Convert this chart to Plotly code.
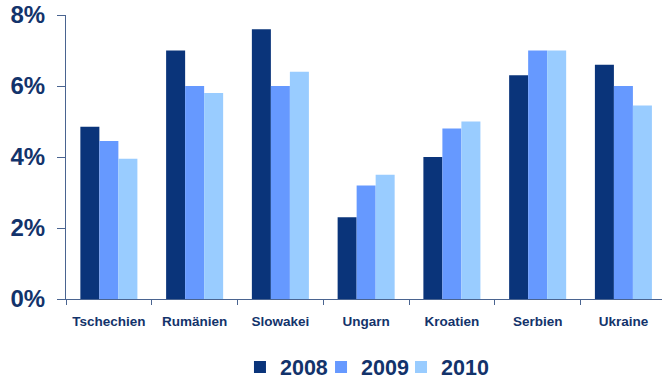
import plotly.graph_objects as go

# Data: annual rates per country, in percent
countries = ["Tschechien", "Rumänien", "Slowakei", "Ungarn", "Kroatien", "Serbien", "Ukraine"]
years = ["2008", "2009", "2010"]
v2008 = [4.85, 7.0, 7.6, 2.3, 4.0, 6.3, 6.6]
v2009 = [4.45, 6.0, 6.0, 3.2, 4.8, 7.0, 6.0]
v2010 = [3.95, 5.8, 6.4, 3.5, 5.0, 7.0, 5.45]
y_tickvals = [0, 2, 4, 6, 8]
y_ticktext = ["0%", "2%", "4%", "6%", "8%"]

series = [v2008, v2009, v2010]
colors = ["#0A347A", "#6699FF", "#99CCFF"]
legend_ids = ["legend", "legend2", "legend3"]
legend_x = [0.2919, 0.4279, 0.5621]
text_color = "#13336B"
axis_color = "#4A6490"
font_family = "Liberation Sans, Arial, sans-serif"

fig = go.Figure()
for name, vals, col, lg in zip(years, series, colors, legend_ids):
    fig.add_trace(go.Bar(x=countries, y=vals, name=name, legend=lg,
                         marker=dict(color=col, line=dict(width=0))))

x_range = [-0.5, 6.45]

legend_style = dict(
    orientation="h", y=-0.2394, xanchor="left", yanchor="middle",
    font=dict(size=21.5, family=font_family, color=text_color, weight="bold"),
    itemclick=False, bgcolor="rgba(0,0,0,0)",
)

fig.update_layout(
    width=662, height=379,
    margin=dict(l=66, r=0, t=15, b=80, autoexpand=False),
    paper_bgcolor="white", plot_bgcolor="white",
    barmode="group", bargap=0.335, bargroupgap=0,
    font=dict(family=font_family, color=text_color),
    showlegend=True,
    xaxis=dict(
        type="category", range=x_range, showgrid=False, zeroline=False,
        showline=True, linecolor=axis_color, linewidth=1.2,
        ticks="outside", tickson="boundaries", ticklen=5, tickwidth=1.2, tickcolor=axis_color,
        tickfont=dict(size=13.5, family=font_family, color=text_color, weight="bold"),
        ticklabelstandoff=10,
    ),
    yaxis=dict(
        range=[0, 8], tickvals=y_tickvals, ticktext=y_ticktext, showgrid=False, zeroline=False,
        showline=True, linecolor=axis_color, linewidth=1.2,
        ticks="outside", ticklen=8, tickwidth=1.2, tickcolor=axis_color,
        tickfont=dict(size=24, family=font_family, color=text_color, weight="bold"),
        ticklabelstandoff=7,
    ),
    # overlay axes carrying the inner half of the crossing tick marks
    xaxis2=dict(
        overlaying="x", anchor="y", side="bottom", range=x_range,
        tickvals=[i + 0.5 for i in range(len(countries) - 1)],
        ticks="inside", ticklen=5, tickwidth=1.2, tickcolor=axis_color,
        showticklabels=False, showgrid=False, zeroline=False, showline=False,
    ),
    yaxis2=dict(
        overlaying="y", anchor="x", side="left", range=[0, 8], tickvals=y_tickvals,
        ticks="inside", ticklen=8, tickwidth=1.2, tickcolor=axis_color,
        showticklabels=False, showgrid=False, zeroline=False, showline=False,
    ),
)
for lg, lx in zip(legend_ids, legend_x):
    fig.update_layout({lg: dict(legend_style, x=lx)})

fig.write_html("out.html")
